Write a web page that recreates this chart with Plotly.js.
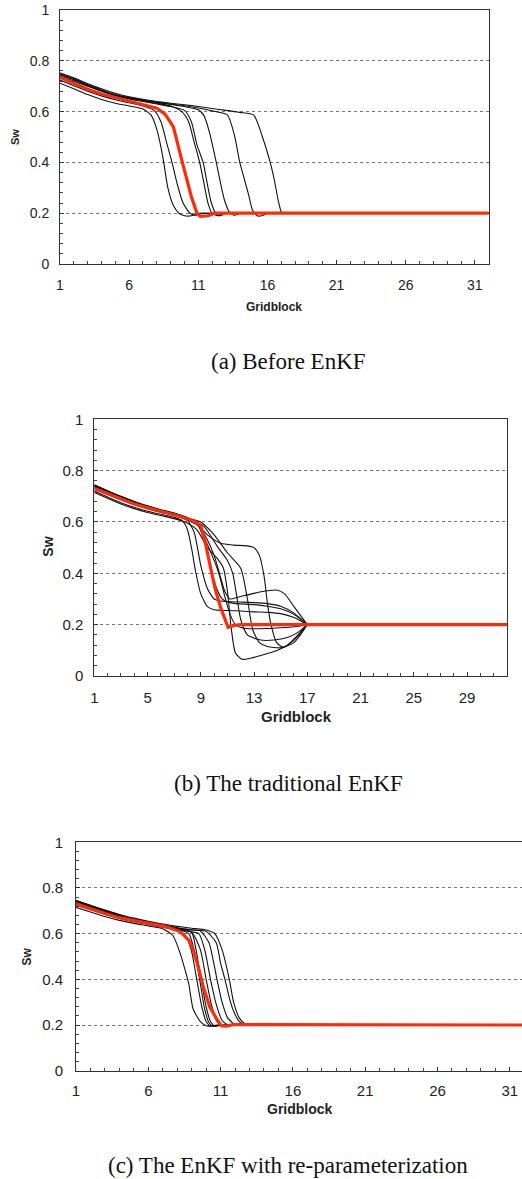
<!DOCTYPE html>
<html>
<head>
<meta charset="utf-8">
<script src="https://cdn.plot.ly/plotly-3.0.1.min.js"></script>
<style>html,body{margin:0;padding:0;background:#fff;}#chart{width:522px;height:1179px;}</style>
</head>
<body>
<div id="chart"></div>
<script>
// ---------- DATA ----------
const captions = ["(a) Before EnKF", "(b) The traditional EnKF", "(c) The EnKF with re-parameterization"];
const xTitle = "Gridblock";
const yTitle = "Sw";

// (a) Before EnKF – ensemble members
const a1x = [1,2,3,4,5,6,7,7.6,8.0,8.3,8.5,8.8,9.2,9.6,10.0,10.5,11,32];
const a1y = [0.712,0.69,0.667,0.648,0.633,0.622,0.61,0.585,0.53,0.46,0.40,0.30,0.23,0.2,0.19,0.19,0.2,0.2];
const a2x = [1,2,3,4,5,6,7,7.8,8.3,8.7,9.1,9.5,9.9,10.4,10.8,11.2,32];
const a2y = [0.724,0.702,0.68,0.662,0.647,0.635,0.622,0.605,0.56,0.48,0.40,0.31,0.24,0.2,0.192,0.2,0.2];
const a3x = [1,2,3,4,5,6,7,8,9,9.8,10.3,10.7,11.1,11.4,11.7,12.0,12.4,12.8,32];
const a3y = [0.745,0.725,0.702,0.682,0.665,0.652,0.642,0.633,0.622,0.6,0.56,0.48,0.40,0.32,0.24,0.2,0.19,0.2,0.2];
const a4x = [1,2,3,4,5,6,7,8,9,10.0,10.5,10.9,11.35,11.6,11.9,12.2,12.5,13,32];
const a4y = [0.74,0.72,0.7,0.68,0.662,0.65,0.64,0.63,0.62,0.605,0.56,0.47,0.40,0.33,0.25,0.205,0.19,0.2,0.2];
const a5x = [1,2,3,4,5,6,7,8,9,10,11,11.4,11.8,12.3,12.6,12.9,13.3,13.6,14,32];
const a5y = [0.75,0.73,0.707,0.685,0.667,0.654,0.645,0.636,0.628,0.62,0.607,0.585,0.52,0.40,0.32,0.25,0.2,0.192,0.2,0.2];
const a6x = [1,2,3,4,5,6,7,8,9,10,11,12,13.1,13.6,14.0,14.3,14.65,14.9,15.25,15.6,16,32];
const a6y = [0.745,0.726,0.703,0.683,0.665,0.653,0.645,0.637,0.63,0.623,0.614,0.603,0.587,0.51,0.40,0.34,0.27,0.215,0.19,0.19,0.2,0.2];
const a7x = [1,2,3,4,5,6,7,8,9,10,11,12,13,14,15,15.7,16.2,16.5,16.8,17.05,17.5,32];
const a7y = [0.752,0.733,0.71,0.69,0.672,0.658,0.648,0.64,0.633,0.627,0.62,0.612,0.605,0.597,0.587,0.49,0.40,0.33,0.245,0.2,0.2,0.2];
// (a) reference (red)
const aRefX = [1,2,3,4,5,6,7,8,8.6,9.2,9.8,10.2,10.5,10.9,11.15,11.7,12.2,32];
const aRefY = [0.735,0.711,0.688,0.669,0.655,0.643,0.63,0.613,0.59,0.54,0.41,0.33,0.265,0.2,0.188,0.19,0.2,0.2];

// (b) The traditional EnKF – ensemble members
const b1x = [1,2,3,4,5,6,7,8,8.6,9.5,10.5,11.5,12.5,13.0,13.4,13.75,14.0,14.25,14.7,15.2,16.0,17,32];
const b1y = [0.745,0.722,0.70,0.68,0.663,0.648,0.635,0.617,0.597,0.55,0.517,0.51,0.507,0.5,0.47,0.39,0.285,0.205,0.13,0.112,0.14,0.2,0.2];
const b2x = [1,2,3,4,5,6,7,8,8.8,9.5,10.0,10.4,10.8,11.2,12,13,14,14.7,15.3,16,17,32];
const b2y = [0.74,0.718,0.697,0.677,0.66,0.645,0.632,0.613,0.59,0.53,0.47,0.40,0.33,0.30,0.31,0.322,0.332,0.335,0.32,0.27,0.2,0.2];
const b3x = [1,2,3,4,5,6,7,8,8.5,9.0,9.5,10,10.5,11,12,13,14,15,16,17,32];
const b3y = [0.735,0.712,0.69,0.67,0.653,0.64,0.627,0.605,0.56,0.43,0.34,0.30,0.292,0.29,0.288,0.286,0.282,0.272,0.245,0.2,0.2];
const b4x = [1,2,3,4,5,6,7,7.6,8.0,8.3,8.6,9.0,9.5,10,11,12,13,14,15,16,17,32];
const b4y = [0.72,0.697,0.675,0.657,0.642,0.63,0.618,0.605,0.57,0.5,0.41,0.32,0.27,0.258,0.255,0.253,0.25,0.248,0.243,0.228,0.2,0.2];
const b5x = [1,2,3,4,5,6,7,8,8.8,9.4,9.85,10.2,10.6,11.0,11.5,13,14,15,16,17,32];
const b5y = [0.742,0.72,0.698,0.678,0.66,0.646,0.633,0.615,0.59,0.5,0.4,0.34,0.3,0.288,0.283,0.278,0.272,0.262,0.24,0.2,0.2];
const b6x = [1,2,3,4,5,6,7,8,8.8,9.6,10.35,10.8,11.2,11.6,12.2,13,14,15,16,17,32];
const b6y = [0.73,0.708,0.687,0.668,0.652,0.638,0.625,0.607,0.585,0.5,0.4,0.31,0.24,0.2,0.186,0.184,0.185,0.188,0.192,0.2,0.2];
const b7x = [1,2,3,4,5,6,7,8,9.2,10.3,11,11.4,11.7,12.0,12.5,13.5,14.5,15.5,16.3,17,32];
const b7y = [0.738,0.716,0.694,0.674,0.657,0.643,0.63,0.612,0.585,0.5,0.45,0.4,0.31,0.22,0.16,0.14,0.14,0.15,0.17,0.2,0.2];
const b8x = [1,2,3,4,5,6,7,8,9.0,10,11,12,12.5,12.9,13.4,14,15,16,17,32];
const b8y = [0.744,0.721,0.699,0.679,0.661,0.647,0.634,0.616,0.6,0.55,0.48,0.42,0.3,0.18,0.13,0.115,0.11,0.13,0.2,0.2];
const b9x = [1,2,3,4,5,6,7,8,8.7,9.5,10.2,10.7,11.0,11.3,11.6,12.1,12.8,13.5,14.5,15.5,16.3,17,32];
const b9y = [0.715,0.692,0.67,0.652,0.637,0.625,0.613,0.595,0.57,0.5,0.46,0.42,0.33,0.18,0.09,0.065,0.07,0.08,0.095,0.12,0.16,0.2,0.2];
// (b) reference (red)
const bRefX = [1,2,3,4,5,6,7,8,8.6,9.0,9.35,9.7,10.1,10.5,11.05,11.5,12,32];
const bRefY = [0.73,0.71,0.688,0.67,0.655,0.642,0.628,0.612,0.6,0.585,0.517,0.43,0.335,0.265,0.19,0.197,0.2,0.2];

// (c) The EnKF with re-parameterization – ensemble members
const c1x = [1,2,3,4,5,6,7,7.7,8.2,8.55,8.8,9.1,9.6,10.05,10.5,11,32];
const c1y = [0.715,0.695,0.675,0.658,0.645,0.634,0.622,0.592,0.515,0.44,0.38,0.27,0.215,0.196,0.196,0.2,0.2];
const c2x = [1,2,3,4,5,6,7,8,8.6,9.0,9.35,9.7,10.0,10.3,10.7,32];
const c2y = [0.725,0.705,0.685,0.667,0.652,0.64,0.628,0.615,0.59,0.52,0.40,0.28,0.215,0.195,0.2,0.2];
const c3x = [1,2,3,4,5,6,7,8,8.8,9.2,9.55,9.9,10.2,10.5,11,32];
const c3y = [0.74,0.718,0.697,0.678,0.661,0.648,0.634,0.62,0.6,0.52,0.4,0.27,0.21,0.195,0.2,0.2];
const c4x = [1,2,3,4,5,6,7,8,9.0,9.3,9.65,10.0,10.3,10.6,11,32];
const c4y = [0.745,0.723,0.702,0.682,0.665,0.651,0.638,0.624,0.605,0.53,0.4,0.28,0.215,0.195,0.2,0.2];
const c5x = [1,2,3,4,5,6,7,8,9,9.6,10.0,10.4,10.8,11.2,11.6,32];
const c5y = [0.735,0.714,0.694,0.675,0.659,0.646,0.633,0.621,0.607,0.53,0.4,0.28,0.21,0.195,0.2,0.2];
const c6x = [1,2,3,4,5,6,7,8,9,9.5,9.9,10.3,10.7,11.1,11.5,32];
const c6y = [0.728,0.708,0.688,0.67,0.655,0.642,0.63,0.618,0.608,0.6,0.53,0.4,0.29,0.22,0.2,0.2];
const c7x = [1,2,3,4,5,6,7,8,9,9.6,10.2,10.5,10.75,11.1,11.5,12.0,32];
const c7y = [0.742,0.72,0.7,0.68,0.664,0.65,0.638,0.626,0.617,0.612,0.56,0.48,0.4,0.3,0.23,0.2,0.2];
const c8x = [1,2,3,4,5,6,7,8,9,10,10.7,11.0,11.3,11.6,11.9,12.3,12.7,32];
const c8y = [0.732,0.712,0.692,0.674,0.658,0.645,0.634,0.624,0.616,0.61,0.56,0.47,0.4,0.32,0.26,0.215,0.2,0.2];
const c9x = [1,2,3,4,5,6,7,8,9,10,10.6,11.1,11.6,11.9,12.3,12.7,13.0,32];
const c9y = [0.745,0.724,0.703,0.684,0.668,0.654,0.642,0.632,0.624,0.616,0.6,0.53,0.4,0.3,0.23,0.205,0.2,0.2];
// (c) reference (red)
const cRefX = [1,2,3,4,5,6,7,7.5,8.2,8.8,9.1,9.45,9.8,10.25,10.7,11.05,11.4,11.9,32];
const cRefY = [0.73,0.708,0.688,0.67,0.656,0.645,0.633,0.625,0.609,0.572,0.528,0.455,0.368,0.28,0.229,0.197,0.195,0.202,0.2];

const xTickStep = [5, 4, 5];
const yTickStep = 0.2;

// ---------- BUILD ----------
const W = 522, H = 1179;
const panels = [
  {ens: [[a1x,a1y],[a2x,a2y],[a3x,a3y],[a4x,a4y],[a5x,a5y],[a6x,a6y],[a7x,a7y]], ref: [aRefX,aRefY],
   box: {l: 60, r: 488.7, t: 10, b: 264}, xr: [1, 32], tickFont: 14, xTitleFont: 12, yTitleFont: 11,
   xTitlePos: [274, 307], yTitlePos: [15, 137], capY: 362, xStand: 8, yStand: 7},
  {ens: [[b1x,b1y],[b2x,b2y],[b3x,b3y],[b4x,b4y],[b5x,b5y],[b6x,b6y],[b7x,b7y],[b8x,b8y],[b9x,b9y]], ref: [bRefX,bRefY],
   box: {l: 94.3, r: 507, t: 419.3, b: 676}, xr: [1, 32], tickFont: 15, xTitleFont: 15, yTitleFont: 14,
   xTitlePos: [296, 716.7], yTitlePos: [48, 546.7], capY: 783, xStand: 8, yStand: 7},
  {ens: [[c1x,c1y],[c2x,c2y],[c3x,c3y],[c4x,c4y],[c5x,c5y],[c6x,c6y],[c7x,c7y],[c8x,c8y],[c9x,c9y]], ref: [cRefX,cRefY],
   box: {l: 76, r: 522, t: 842.3, b: 1070.7}, xr: [1, 1 + (522 - 76) / 14.46], tickFont: 15, xTitleFont: 14, yTitleFont: 12,
   xTitlePos: [299.5, 1109], yTitlePos: [26.7, 956.7], capY: 1165, xStand: 6, yStand: 9}
];

const traces = [];
const layout = {
  width: W, height: H, margin: {l: 0, r: 0, t: 0, b: 0},
  paper_bgcolor: '#fff', plot_bgcolor: '#fff', showlegend: false,
  font: {family: 'Liberation Sans, Arial, sans-serif', color: '#222'},
  annotations: []
};

panels.forEach((p, i) => {
  const n = i === 0 ? '' : String(i + 1);
  const xa = 'x' + n, ya = 'y' + n;
  p.ens.forEach(([xs, ys]) => {
    const k = xs.length - 1;
    // smooth front part
    traces.push({
      x: xs.slice(0, k), y: ys.slice(0, k), xaxis: xa, yaxis: ya, type: 'scatter', mode: 'lines',
      line: {color: '#111', width: 1.1, shape: 'spline', smoothing: 0.6}, hoverinfo: 'skip'
    });
    // flat tail to the last gridblock
    traces.push({
      x: xs.slice(k - 1), y: ys.slice(k - 1), xaxis: xa, yaxis: ya, type: 'scatter', mode: 'lines',
      line: {color: '#111', width: 1.1, shape: 'linear'}, hoverinfo: 'skip'
    });
  });
  traces.push({
    x: p.ref[0], y: p.ref[1], xaxis: xa, yaxis: ya, type: 'scatter', mode: 'lines',
    line: {color: '#ff2a0a', width: 3.2, shape: 'linear'}, hoverinfo: 'skip'
  });
  const b = p.box;
  layout['xaxis' + n] = {
    domain: [b.l / W, Math.min(1, b.r / W)], range: p.xr, anchor: ya,
    tick0: 1, dtick: xTickStep[i], ticks: 'inside', ticklen: 4, tickcolor: '#333',
    minor: {dtick: 1, tick0: 1, ticks: 'inside', ticklen: 3, tickcolor: '#444', showgrid: false},
    showline: true, linecolor: '#333', linewidth: 1, mirror: true,
    showgrid: false, zeroline: false, tickfont: {size: p.tickFont, color: '#222'},
    ticklabelstandoff: p.xStand, fixedrange: true
  };
  layout['yaxis' + n] = {
    domain: [1 - b.b / H, 1 - b.t / H], range: [0, 1], anchor: xa,
    tick0: 0, dtick: yTickStep, ticks: 'inside', ticklen: 4, tickcolor: '#333',
    minor: {dtick: 0.04, ticks: 'inside', ticklen: 3, tickcolor: '#444', showgrid: false},
    showline: true, linecolor: '#333', linewidth: 1, mirror: true,
    showgrid: true, gridcolor: '#777', griddash: 'dot', gridwidth: 1, zeroline: false,
    tickfont: {size: p.tickFont, color: '#222'}, ticklabelstandoff: p.yStand, fixedrange: true
  };
  layout.annotations.push({
    text: xTitle, xref: 'paper', yref: 'paper', x: p.xTitlePos[0] / W, y: 1 - p.xTitlePos[1] / H,
    xanchor: 'center', yanchor: 'middle', showarrow: false,
    font: {size: p.xTitleFont, weight: 'bold', color: '#222'}
  });
  layout.annotations.push({
    text: yTitle, xref: 'paper', yref: 'paper', x: p.yTitlePos[0] / W, y: 1 - p.yTitlePos[1] / H,
    xanchor: 'center', yanchor: 'middle', showarrow: false, textangle: -90,
    font: {size: p.yTitleFont, weight: 'bold', color: '#222'}
  });
  layout.annotations.push({
    text: captions[i], xref: 'paper', yref: 'paper', x: 288 / W, y: 1 - p.capY / H,
    xanchor: 'center', yanchor: 'middle', showarrow: false,
    font: {family: 'Liberation Serif, Times New Roman, serif', size: 23, color: '#111'}
  });
});

Plotly.newPlot('chart', traces, layout, {staticPlot: true, displayModeBar: false});
</script>
</body>
</html>
